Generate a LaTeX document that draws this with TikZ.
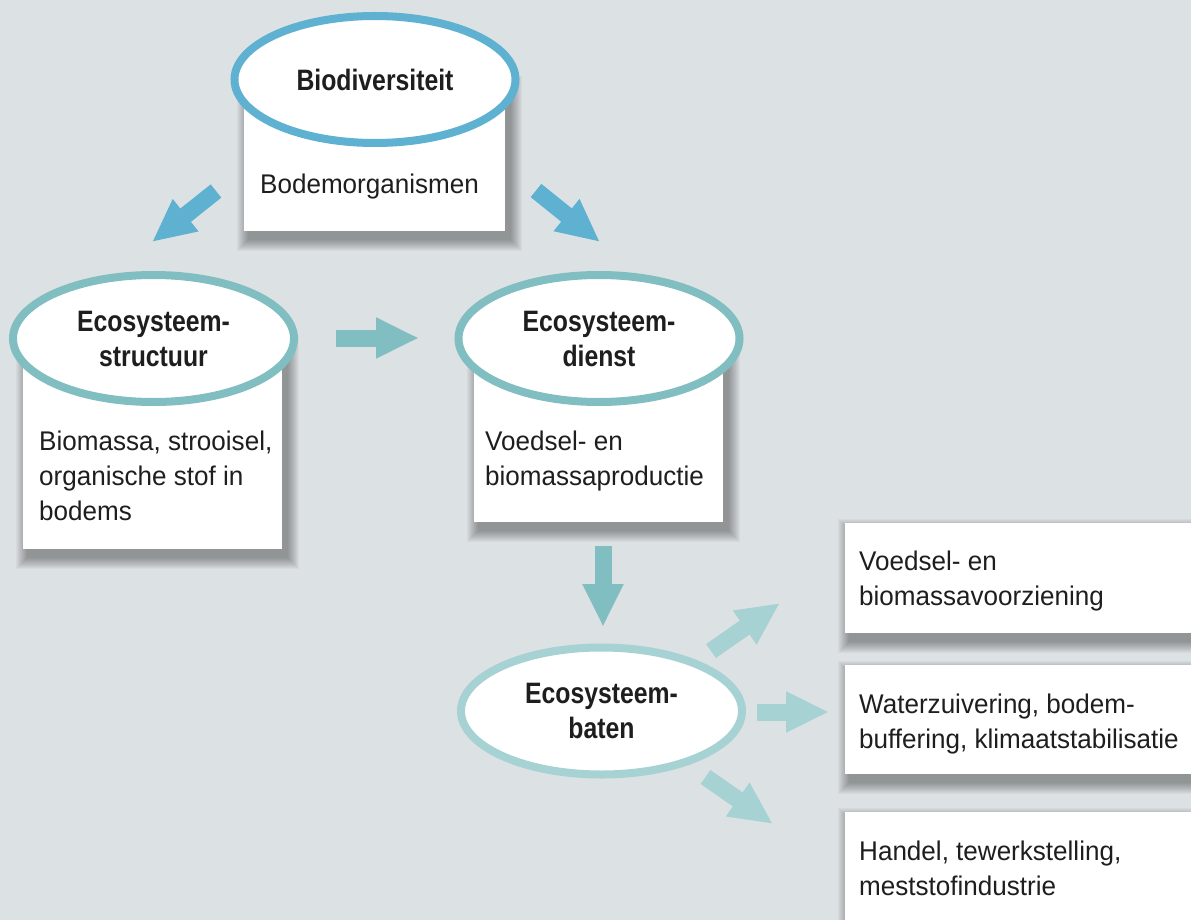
\documentclass[tikz,border=0pt]{standalone}
\usepackage{fontspec}
\setmainfont{Liberation Sans}[UprightFeatures={FakeStretch=0.965}, BoldFeatures={FakeStretch=0.84}]
\usetikzlibrary{arrows.meta,shapes.geometric}
\definecolor{bgc}{HTML}{DCE1E4}
\definecolor{blueA}{HTML}{5EB1D0}
\definecolor{tealB}{HTML}{80BEC1}
\definecolor{tealC}{HTML}{A7D2D3}
\definecolor{txt}{HTML}{1E1E1E}
\pgfdeclarelayer{bg}
\pgfsetlayers{bg,main}
\newcommand\cardshadow[1]{%
  \foreach \k in {1,...,12}{%
    \fill[black,opacity=0.03] ([shift={(5-\k,8-\k)}]#1.north west) rectangle ([shift={(5+\k,8+\k)}]#1.south east);}}
\begin{document}
\begin{tikzpicture}[x=1pt,y=-1pt,
  oval/.style={ellipse, draw, line width=8pt, fill=white, minimum width=281pt, minimum height=127pt,
    inner sep=0pt, font=\fontsize{29.5}{35}\selectfont\bfseries, align=center, text=txt},
  card/.style={rectangle, fill=white, inner sep=0pt, anchor=north west},
  body/.style={anchor=north west, inner sep=0pt, align=left, font=\fontsize{27}{35}\selectfont, text=txt},
  flow/.style={line width=17pt, -{Triangle[length=43pt,width=38pt]}},
]
\useasboundingbox (0,0) rectangle (1191,920);

% white cards
\node[card, minimum width=261pt, minimum height=151pt] (bioBox) at (244,80) {};
\node[card, minimum width=259pt, minimum height=209pt] (structBox) at (23,340) {};
\node[card, minimum width=249pt, minimum height=182pt] (dienstBox) at (474,340) {};
\node[card, minimum width=370pt, minimum height=110pt] (r1) at (845,523) {};
\node[card, minimum width=370pt, minimum height=109pt] (r2) at (845,665) {};
\node[card, minimum width=370pt, minimum height=130pt] (r3) at (845,812) {};

\begin{pgfonlayer}{bg}
  \fill[bgc] (0,0) rectangle (1191,920);
  \cardshadow{bioBox}
  \cardshadow{structBox}
  \cardshadow{dienstBox}
  \cardshadow{r1}
  \cardshadow{r2}
  \cardshadow{r3}
\end{pgfonlayer}

% ovals
\node[oval, draw=blueA] (bio) at (375,79.5) {Biodiversiteit};
\node[oval, draw=tealB] (struct) at (153.5,338.5) {Ecosysteem-\\structuur};
\node[oval, draw=tealB] (dienst) at (599,338.5) {Ecosysteem-\\dienst};
\node[oval, draw=tealC] (baten) at (601.5,711) {Ecosysteem-\\baten};

% texts
\node[body] (bioTxt) at (260,173.5) {Bodemorganismen};
\node[body] (structTxt) at (39,430.5) {Biomassa, strooisel,\\organische stof in\\bodems};
\node[body] (dienstTxt) at (485,430.5) {Voedsel- en\\biomassaproductie};
\node[body] (r1Txt) at (859,550.5) {Voedsel- en\\biomassavoorziening};
\node[body] (r2Txt) at (859,693.5) {Waterzuivering, bodem-\\buffering, klimaatstabilisatie};
\node[body] (r3Txt) at (859,840.5) {Handel, tewerkstelling,\\meststofindustrie};

% arrows
\coordinate (a1s) at (216,191);   \coordinate (a1e) at (152,242);
\coordinate (a2s) at (536,190.5); \coordinate (a2e) at (600,242);
\coordinate (a3s) at (336,338);   \coordinate (a3e) at (419,338);
\coordinate (a4s) at (603,546);   \coordinate (a4e) at (603,627);
\coordinate (a5s) at (711,651);   \coordinate (a5e) at (780,603);
\coordinate (a6s) at (757,712);   \coordinate (a6e) at (829,712);
\coordinate (a7s) at (705.5,777); \coordinate (a7e) at (773,824);
\draw[flow, color=blueA] (a1s) -- (a1e);
\draw[flow, color=blueA] (a2s) -- (a2e);
\draw[flow, color=tealB] (a3s) -- (a3e);
\draw[flow, color=tealB] (a4s) -- (a4e);
\draw[flow, color=tealC] (a5s) -- (a5e);
\draw[flow, color=tealC] (a6s) -- (a6e);
\draw[flow, color=tealC] (a7s) -- (a7e);
\end{tikzpicture}
\end{document}
